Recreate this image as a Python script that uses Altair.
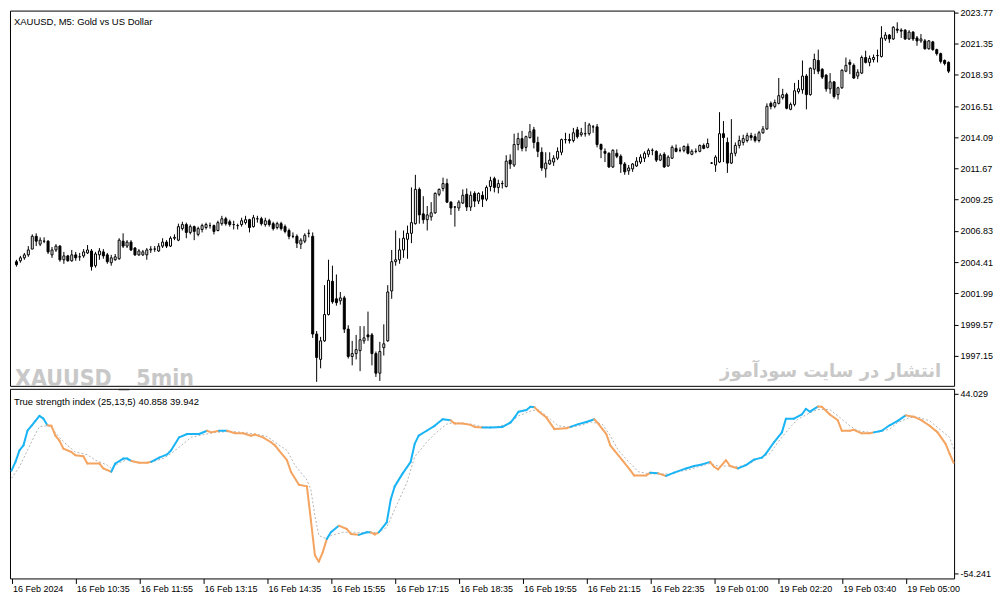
import altair as alt
import pandas as pd

# XAUUSD M5 candles, one value per 5-minute bar from left to right
opens = [
    2004.44, 2004.51, 2004.74, 2004.97, 2005.42, 2006.41, 2005.80, 2006.03, 2006.03, 2004.97,
    2005.35, 2005.65, 2004.59, 2004.89, 2004.51, 2004.97, 2004.82, 2004.89, 2005.12, 2005.27,
    2004.13, 2004.97, 2005.20, 2004.97, 2004.36, 2004.59, 2004.67, 2006.03, 2005.65, 2005.96,
    2005.50, 2004.97, 2004.97, 2004.97, 2005.35, 2005.42, 2005.27, 2005.65, 2005.96, 2005.65,
    2006.26, 2006.11, 2007.01, 2007.32, 2006.71, 2007.16, 2006.56, 2006.94, 2007.09, 2007.24,
    2007.24, 2006.86, 2007.39, 2007.77, 2007.54, 2007.32, 2007.24, 2007.32, 2007.47, 2007.70,
    2007.16, 2007.77, 2007.77, 2007.32, 2007.62, 2007.39, 2007.09, 2007.39, 2007.16, 2006.86,
    2006.41, 2006.41, 2005.80, 2006.03, 2006.64, 2006.41, 1998.83, 1996.86, 1998.30, 2000.34,
    2002.92, 2001.56, 2001.41, 2001.63, 1999.21, 1997.09, 1997.31, 1997.54, 1998.30, 1998.76,
    1998.76, 1997.31, 1995.79, 1997.77, 1998.30, 2002.17, 2004.44, 2004.59, 2005.35, 2006.18,
    2006.64, 2007.39, 2010.05, 2008.15, 2007.70, 2007.92, 2008.23, 2009.67, 2010.12, 2010.50,
    2009.06, 2008.68, 2008.61, 2008.99, 2009.67, 2008.68, 2009.74, 2009.14, 2009.59, 2009.29,
    2010.27, 2010.88, 2010.20, 2010.50, 2010.27, 2012.32, 2011.94, 2013.53, 2013.99, 2013.31,
    2014.07, 2014.67, 2013.69, 2012.93, 2011.64, 2012.02, 2012.17, 2012.47, 2012.93, 2013.91,
    2013.91, 2013.84, 2014.67, 2014.29, 2014.37, 2014.37, 2014.90, 2014.90, 2013.53, 2013.00,
    2012.85, 2011.79, 2012.85, 2012.62, 2012.02, 2011.49, 2011.64, 2011.87, 2012.17, 2012.47,
    2012.77, 2013.08, 2013.00, 2012.32, 2012.77, 2011.87, 2012.47, 2013.23, 2013.08, 2013.08,
    2013.38, 2012.77, 2013.00, 2013.00, 2013.46, 2013.31, 2012.09, 2011.94, 2012.17, 2014.37,
    2013.69, 2012.09, 2012.85, 2013.46, 2013.69, 2013.84, 2014.22, 2014.14, 2013.84, 2014.44,
    2014.74, 2016.72, 2016.49, 2016.72, 2017.17, 2017.40, 2016.26, 2016.64, 2017.63, 2017.78,
    2018.84, 2017.40, 2019.37, 2020.05, 2019.37, 2018.91, 2017.85, 2018.39, 2017.40, 2017.93,
    2019.22, 2019.90, 2019.67, 2018.84, 2019.07, 2020.28, 2019.90, 2020.13, 2020.43, 2020.36,
    2021.72, 2022.02, 2021.72, 2022.48, 2022.40, 2022.40, 2021.72, 2022.25, 2021.80, 2021.57,
    2021.57, 2020.96, 2021.49, 2020.89, 2020.58, 2020.05, 2019.90,
]
highs = [
    2004.59, 2004.89, 2005.12, 2005.65, 2006.56, 2006.64, 2006.33, 2006.33, 2006.11, 2005.58,
    2005.80, 2005.73, 2005.20, 2004.97, 2005.35, 2005.20, 2005.12, 2005.42, 2005.73, 2005.42,
    2005.20, 2005.50, 2005.42, 2005.12, 2004.97, 2005.04, 2006.26, 2006.64, 2006.11, 2006.11,
    2005.58, 2005.42, 2005.35, 2005.50, 2005.65, 2005.65, 2005.88, 2006.26, 2006.11, 2006.41,
    2006.56, 2007.39, 2007.54, 2007.47, 2007.32, 2007.24, 2007.16, 2007.39, 2007.47, 2007.47,
    2007.32, 2007.62, 2008.00, 2007.92, 2007.70, 2007.62, 2007.39, 2007.85, 2008.00, 2007.77,
    2008.07, 2008.00, 2007.92, 2007.85, 2007.77, 2007.54, 2007.54, 2007.54, 2007.32, 2007.01,
    2006.71, 2006.56, 2006.26, 2006.64, 2006.94, 2006.71, 1999.06, 1998.61, 2002.62, 2004.59,
    2004.13, 2003.45, 2002.09, 2001.79, 1999.51, 1998.30, 1998.76, 1999.44, 1999.44, 2000.57,
    1998.91, 1997.47, 1998.22, 1999.58, 2002.62, 2005.35, 2006.86, 2006.26, 2006.86, 2007.24,
    2010.20, 2011.18, 2010.20, 2009.52, 2008.76, 2009.06, 2009.82, 2010.12, 2010.96, 2010.88,
    2009.14, 2008.76, 2009.21, 2010.05, 2010.12, 2009.90, 2009.90, 2009.82, 2009.90, 2010.35,
    2011.03, 2011.03, 2010.80, 2010.73, 2012.70, 2012.77, 2014.37, 2014.44, 2014.59, 2014.22,
    2015.12, 2014.90, 2014.14, 2013.31, 2012.93, 2012.93, 2012.70, 2013.31, 2013.99, 2014.44,
    2014.37, 2014.82, 2014.90, 2014.82, 2015.28, 2015.20, 2015.05, 2015.12, 2013.61, 2013.23,
    2012.93, 2013.16, 2013.16, 2012.77, 2012.17, 2011.94, 2012.09, 2012.55, 2012.77, 2013.00,
    2013.23, 2013.23, 2013.08, 2012.85, 2012.93, 2012.70, 2013.46, 2013.53, 2013.31, 2013.46,
    2013.61, 2013.16, 2013.23, 2013.53, 2013.61, 2013.99, 2012.17, 2012.70, 2016.04, 2015.35,
    2014.07, 2015.50, 2013.69, 2014.22, 2014.29, 2014.44, 2014.44, 2014.37, 2014.59, 2014.97,
    2016.72, 2016.87, 2017.02, 2018.69, 2017.85, 2017.55, 2016.79, 2018.31, 2018.54, 2020.05,
    2018.99, 2019.52, 2020.58, 2020.89, 2019.45, 2018.99, 2019.07, 2018.46, 2018.01, 2019.37,
    2020.28, 2020.13, 2019.82, 2019.37, 2020.43, 2020.81, 2020.43, 2020.51, 2020.89, 2022.71,
    2022.25, 2022.10, 2022.71, 2023.01, 2022.55, 2022.48, 2022.40, 2022.33, 2021.95, 2022.10,
    2021.72, 2021.64, 2021.57, 2020.96, 2020.66, 2020.13, 2019.98,
]
lows = [
    2004.06, 2004.36, 2004.59, 2004.82, 2005.42, 2005.65, 2005.65, 2005.88, 2005.04, 2004.74,
    2005.20, 2004.44, 2004.28, 2004.44, 2004.44, 2004.51, 2004.51, 2004.74, 2005.04, 2003.75,
    2003.98, 2004.59, 2004.67, 2004.28, 2004.13, 2004.51, 2004.59, 2005.50, 2005.50, 2005.27,
    2004.89, 2004.89, 2004.89, 2004.59, 2005.12, 2005.20, 2005.20, 2005.50, 2005.50, 2005.58,
    2006.11, 2006.03, 2006.86, 2006.26, 2006.56, 2006.11, 2006.41, 2006.71, 2006.94, 2007.01,
    2006.56, 2006.79, 2007.24, 2007.24, 2007.16, 2006.94, 2006.94, 2007.16, 2007.32, 2006.71,
    2007.09, 2007.47, 2007.24, 2007.16, 2007.16, 2006.86, 2006.94, 2006.86, 2006.64, 2006.18,
    2006.26, 2005.50, 2005.42, 2005.88, 2006.33, 1998.53, 1995.12, 1996.17, 1998.22, 2000.27,
    2001.18, 2001.03, 2001.11, 1998.91, 1996.93, 1996.40, 1996.86, 1995.95, 1998.07, 1998.30,
    1996.40, 1995.50, 1995.19, 1997.16, 1998.22, 2001.56, 2004.13, 2004.28, 2004.74, 2004.67,
    2005.88, 2007.32, 2007.39, 2007.39, 2006.86, 2007.62, 2008.15, 2009.52, 2009.90, 2008.99,
    2008.07, 2007.16, 2008.38, 2008.91, 2008.38, 2008.38, 2008.68, 2008.91, 2008.68, 2009.14,
    2009.90, 2009.82, 2009.74, 2010.12, 2010.20, 2011.64, 2011.79, 2013.08, 2013.00, 2013.00,
    2013.99, 2013.23, 2012.55, 2011.49, 2010.96, 2011.94, 2011.87, 2012.32, 2012.70, 2013.61,
    2013.61, 2013.69, 2013.99, 2014.14, 2014.14, 2014.22, 2014.44, 2013.31, 2012.47, 2012.17,
    2011.71, 2011.71, 2012.47, 2011.33, 2011.18, 2011.18, 2011.41, 2011.79, 2012.02, 2012.17,
    2012.55, 2012.70, 2012.17, 2012.24, 2011.71, 2011.79, 2012.40, 2012.93, 2012.93, 2012.93,
    2012.77, 2012.70, 2012.85, 2012.93, 2013.16, 2013.23, 2012.02, 2011.41, 2012.09, 2012.17,
    2011.33, 2012.02, 2012.62, 2013.23, 2013.46, 2013.69, 2013.84, 2013.69, 2013.69, 2014.37,
    2014.67, 2016.26, 2016.34, 2016.64, 2017.02, 2016.26, 2016.19, 2016.49, 2017.47, 2017.47,
    2016.26, 2017.32, 2018.99, 2018.99, 2018.61, 2017.63, 2017.47, 2017.10, 2017.02, 2017.85,
    2019.14, 2018.99, 2018.61, 2018.61, 2018.99, 2019.82, 2019.60, 2019.90, 2019.90, 2020.28,
    2021.57, 2021.42, 2021.64, 2022.17, 2021.80, 2021.64, 2021.64, 2021.57, 2021.19, 2021.42,
    2020.89, 2020.89, 2020.81, 2020.43, 2019.82, 2019.67, 2019.07,
]
closes = [
    2004.21, 2004.74, 2004.97, 2005.35, 2006.41, 2006.03, 2006.11, 2006.03, 2005.20, 2005.35,
    2005.65, 2004.59, 2004.89, 2004.51, 2004.97, 2004.74, 2004.82, 2005.20, 2005.35, 2004.06,
    2005.04, 2005.27, 2004.89, 2004.44, 2004.74, 2004.82, 2006.11, 2005.65, 2005.96, 2005.35,
    2004.97, 2005.27, 2005.20, 2005.35, 2005.42, 2005.42, 2005.65, 2005.96, 2005.65, 2006.26,
    2006.33, 2007.16, 2007.32, 2006.71, 2007.16, 2006.79, 2007.01, 2007.24, 2007.32, 2007.24,
    2006.79, 2007.47, 2007.77, 2007.39, 2007.32, 2007.32, 2007.24, 2007.62, 2007.70, 2007.09,
    2007.85, 2007.77, 2007.39, 2007.62, 2007.32, 2007.01, 2007.39, 2007.01, 2006.79, 2006.41,
    2006.41, 2005.88, 2006.11, 2006.49, 2006.64, 1998.83, 1997.01, 1998.30, 2000.34, 2003.00,
    2001.33, 2001.26, 2001.63, 1999.21, 1997.09, 1997.31, 1997.62, 1998.38, 1998.53, 1998.61,
    1997.31, 1995.79, 1997.47, 1998.07, 2002.09, 2004.44, 2004.59, 2005.35, 2006.26, 2006.64,
    2007.47, 2010.05, 2008.07, 2007.70, 2008.07, 2008.23, 2009.74, 2010.05, 2010.50, 2009.06,
    2008.61, 2008.68, 2009.06, 2009.59, 2008.68, 2009.59, 2009.14, 2009.74, 2009.29, 2010.20,
    2010.73, 2010.20, 2010.50, 2010.50, 2012.24, 2012.02, 2013.53, 2013.99, 2013.23, 2014.14,
    2014.52, 2013.69, 2013.00, 2011.71, 2012.09, 2012.32, 2012.47, 2013.00, 2013.91, 2013.91,
    2013.84, 2014.44, 2014.14, 2014.44, 2014.37, 2015.05, 2014.90, 2013.53, 2013.16, 2012.85,
    2011.79, 2013.08, 2012.62, 2012.02, 2011.41, 2011.71, 2012.02, 2012.24, 2012.55, 2012.85,
    2013.08, 2013.08, 2012.32, 2012.70, 2011.79, 2012.55, 2013.31, 2013.00, 2013.08, 2013.38,
    2012.85, 2013.00, 2013.00, 2013.46, 2013.23, 2013.61, 2012.09, 2012.55, 2014.37, 2014.07,
    2012.09, 2012.85, 2013.46, 2013.84, 2013.99, 2014.22, 2014.07, 2013.84, 2014.44, 2014.74,
    2016.49, 2016.49, 2016.79, 2017.32, 2017.40, 2016.34, 2016.64, 2017.70, 2017.85, 2018.84,
    2017.40, 2019.45, 2020.13, 2019.22, 2018.76, 2017.85, 2018.39, 2017.25, 2017.93, 2019.29,
    2019.67, 2019.75, 2018.69, 2019.14, 2020.28, 2019.90, 2020.20, 2020.28, 2020.43, 2021.80,
    2022.02, 2021.72, 2022.63, 2022.40, 2022.33, 2021.72, 2022.25, 2021.72, 2021.57, 2021.72,
    2020.96, 2021.57, 2020.89, 2020.58, 2019.98, 2019.82, 2019.22,
]

# True strength index (25,13,5): sampled bars, values, colour state (1 = blue, 0 = orange)
tsi_bar = [
    0, 1, 2, 3, 4, 5, 6, 7, 8, 9, 10, 11, 12, 13, 15, 16, 18, 19, 22, 23,
    24, 25, 26, 28, 29, 30, 32, 34, 35, 37, 39, 40, 42, 44, 47, 49, 50, 52, 54, 56,
    58, 60, 61, 63, 65, 66, 67, 69, 70, 72, 74, 75, 76, 77, 78, 79, 80, 82, 84, 85,
    87, 89, 90, 91, 92, 94, 95, 96, 98, 100, 101, 102, 104, 106, 108, 110, 111, 113, 115, 116,
    118, 120, 123, 125, 126, 127, 129, 130, 131, 132, 134, 136, 139, 140, 142, 144, 146, 147, 149, 150,
    151, 153, 155, 156, 159, 160, 162, 164, 166, 169, 171, 173, 175, 176, 177, 179, 180, 182, 184, 186,
    188, 189, 191, 193, 194, 196, 198, 199, 200, 202, 203, 205, 207, 208, 210, 211, 213, 215, 216, 218,
    220, 222, 224, 226, 228, 230, 232, 234, 235, 236,
]
tsi_val = [
    2.0, 6.8, 13.1, 15.8, 23.8, 26.5, 29.2, 31.9, 30.4, 26.8, 26.5, 21.1, 18.4, 14.0, 12.2, 10.4, 9.8, 5.9, 5.9, 3.2,
    2.3, 1.4, 5.9, 8.6, 8.6, 7.3, 6.3, 6.3, 6.8, 9.1, 10.9, 13.1, 20.2, 22.0, 22.0, 23.8, 22.9, 23.8, 23.8, 22.4,
    22.4, 21.1, 21.7, 20.2, 17.5, 15.8, 13.1, 7.7, 1.4, -5.7, -6.6, -25.0, -44.2, -47.8, -42.4, -35.3, -31.7, -28.1, -29.9, -32.6,
    -33.1, -31.7, -31.7, -32.9, -31.7, -26.3, -13.8, -6.6, 0.5, 6.8, 16.6, 21.1, 23.8, 26.5, 30.1, 29.5, 27.7, 27.7, 27.0, 25.9,
    25.6, 25.6, 25.9, 28.3, 31.0, 34.2, 35.1, 36.9, 36.7, 34.5, 31.0, 24.7, 25.2, 25.9, 27.4, 28.6, 30.1, 27.7, 22.0, 15.8,
    13.1, 7.7, 2.3, -0.7, -0.7, 0.9, 0.5, -0.9, 0.9, 3.2, 4.5, 5.4, 6.8, 4.1, 2.7, 7.7, 4.5, 3.2, 5.0, 8.0,
    9.1, 11.3, 17.5, 22.9, 30.4, 30.4, 32.7, 35.8, 34.2, 37.0, 36.9, 32.7, 29.5, 23.8, 23.8, 24.3, 22.4, 22.4, 22.9, 23.8,
    26.8, 29.2, 32.2, 31.5, 29.5, 26.5, 22.9, 16.6, 11.3, 6.3,
]
tsi_up = [
    1, 1, 1, 1, 1, 1, 1, 1, 1, 0, 0, 0, 0, 0, 0, 0, 0, 0, 0, 0,
    0, 1, 1, 1, 1, 0, 0, 0, 1, 1, 1, 1, 1, 1, 1, 0, 0, 1, 0, 0,
    0, 0, 0, 0, 0, 0, 0, 0, 0, 0, 0, 0, 0, 0, 0, 1, 1, 0, 0, 0,
    1, 1, 0, 0, 1, 1, 1, 1, 1, 1, 1, 1, 1, 1, 1, 0, 0, 0, 0, 0,
    1, 1, 1, 1, 1, 1, 1, 1, 0, 0, 0, 0, 0, 1, 1, 1, 0, 0, 0, 0,
    0, 0, 0, 0, 0, 1, 0, 1, 1, 1, 1, 1, 0, 0, 0, 0, 0, 1, 1, 1,
    1, 1, 1, 1, 1, 1, 1, 1, 1, 0, 0, 0, 0, 0, 0, 0, 0, 0, 1, 1,
    1, 1, 0, 0, 0, 0, 0, 0, 0, 0,
]
sig_bar = [
    0, 2, 4, 6, 7, 9, 10, 12, 14, 16, 19, 21, 24, 25, 27, 29, 32, 35, 38, 40,
    43, 45, 48, 51, 55, 58, 61, 64, 66, 69, 71, 74, 75, 76, 77, 79, 80, 83, 86, 90,
    92, 94, 96, 99, 101, 104, 106, 109, 111, 115, 118, 121, 124, 127, 130, 132, 135, 137, 140, 143,
    145, 148, 150, 152, 155, 157, 160, 162, 165, 167, 170, 172, 175, 177, 180, 182, 185, 187, 190, 192,
    195, 197, 200, 202, 205, 207, 210, 212, 215, 217, 220, 222, 225, 227, 230, 232, 235, 236,
]
sig_val = [
    -2.2, 4.1, 13.1, 22.0, 26.0, 26.5, 25.6, 20.2, 15.8, 12.2, 10.7, 7.7, 5.0, 3.2, 6.3, 8.0, 6.4, 6.6, 8.6, 11.3,
    16.6, 20.2, 21.6, 22.9, 23.4, 22.9, 22.0, 20.7, 17.5, 13.1, 5.0, -3.1, -8.4, -22.7, -33.5, -35.3, -33.5, -31.7, -31.7, -32.0,
    -31.7, -29.0, -19.2, -4.8, 9.5, 17.5, 22.0, 27.4, 28.3, 27.4, 26.0, 25.6, 27.4, 31.9, 34.5, 35.4, 30.1, 26.5, 25.6, 27.0,
    28.6, 27.4, 21.1, 13.1, 5.9, 1.4, 0.2, 0.2, 0.2, 1.4, 2.7, 4.1, 5.9, 4.5, 4.5, 4.1, 5.9, 8.6, 11.3, 17.5,
    25.6, 30.1, 33.6, 35.4, 35.4, 31.9, 26.5, 23.8, 22.9, 22.9, 24.7, 28.3, 31.0, 31.3, 29.2, 25.6, 20.2, 13.9,
]

price_ticks = [2023.77, 2021.35, 2018.93, 2016.51, 2014.09, 2011.67,
               2009.25, 2006.83, 2004.41, 2001.99, 1999.57, 1997.15]
tsi_ticks = [44.029, -54.241]
time_ticks = list(range(0, 225, 16))
time_labels = ["16 Feb 2024", "16 Feb 10:35", "16 Feb 11:55", "16 Feb 13:15", "16 Feb 14:35",
               "16 Feb 15:55", "16 Feb 17:15", "16 Feb 18:35", "16 Feb 19:55", "16 Feb 21:15",
               "16 Feb 22:35", "19 Feb 01:00", "19 Feb 02:20", "19 Feb 03:40", "19 Feb 05:00"]

W = 946
H_MAIN = 376
H_TSI = 190
FONT = "Liberation Sans"

candles = pd.DataFrame({"i": range(len(closes)), "open": opens, "high": highs,
                        "low": lows, "close": closes})
candles["side"] = ["down" if c < o else "up" for o, c in zip(opens, closes)]

x_scale = alt.Scale(domain=[-0.375, 236.125], nice=False, zero=False)
price_scale = alt.Scale(domain=[1994.81, 2023.92], nice=False, zero=False)
tsi_scale = alt.Scale(domain=[-56.93, 46.71], nice=False, zero=False)


def right_axis(values):
    return alt.Axis(orient="right", values=values, labelExpr="'' + datum.value", title=None,
                    grid=False, domain=False, tickSize=4, tickColor="black",
                    labelColor="black", labelFont=FONT, labelFontSize=9, labelPadding=2,
                    labelFlush=False, labelOverlap=False)


def note(text, x, y, **style):
    return (
        alt.Chart(pd.DataFrame({"t": [text]}))
        .mark_text(**style)
        .encode(text="t:N", x=alt.value(x), y=alt.value(y))
    )


# price pane
cx = alt.X("i:Q", scale=x_scale, axis=None)
wicks = alt.Chart(candles).mark_rule(color="black", strokeWidth=1).encode(
    x=cx,
    y=alt.Y("low:Q", scale=price_scale, axis=right_axis(price_ticks)),
    y2="high:Q",
)
bodies = alt.Chart(candles).mark_bar(size=2, stroke="black", strokeWidth=1).encode(
    x=cx,
    y=alt.Y("open:Q", scale=price_scale, axis=right_axis(price_ticks)),
    y2="close:Q",
    fill=alt.Fill("side:N", scale=alt.Scale(domain=["up", "down"], range=["white", "black"]),
                  legend=None),
)
main = alt.layer(
    wicks,
    bodies,
    note("XAUUSD, M5:  Gold vs US Dollar", 4, 11, align="left", font=FONT,
         fontSize=9.5, color="black"),
    note("XAUUSD _ 5min", 5, H_MAIN - 7, align="left", font="DejaVu Sans Condensed",
         fontSize=23, fontWeight="bold", color="#c8c8c8"),
    note("انتشار در سایت سودآموز", W - 13, H_MAIN - 14, align="right",
         font="DejaVu Sans", fontSize=18, fontWeight="bold", color="#c8c8c8"),
).properties(width=W, height=H_MAIN)

# indicator pane
time_axis = alt.Axis(values=time_ticks,
                     labelExpr="[" + ",".join(f"'{t}'" for t in time_labels) + "][round(datum.value / 16)]",
                     title=None, grid=False, domain=False, tickSize=5, tickColor="black",
                     labelColor="black", labelFont=FONT, labelFontSize=9, labelAlign="left",
                     labelBaseline="top", labelPadding=1, labelOffset=1, labelFlush=False,
                     labelOverlap=False, labelBound=False)
tx = alt.X("i:Q", scale=x_scale, axis=time_axis)
ty = alt.Y("v:Q", scale=tsi_scale, axis=right_axis(tsi_ticks))

tsi = pd.DataFrame({"i": tsi_bar, "v": tsi_val,
                    "state": ["up" if u else "down" for u in tsi_up]})
sig = pd.DataFrame({"i": sig_bar, "v": sig_val})

signal = alt.Chart(sig).mark_line(color="#b4b4b4", strokeWidth=1, strokeDash=[2, 2]).encode(
    x=tx, y=ty
)
segments = (
    alt.Chart(tsi)
    .transform_window(
        window=[alt.WindowFieldDef(op="lead", field="i", **{"as": "i2"}),
                alt.WindowFieldDef(op="lead", field="v", **{"as": "v2"})],
        sort=[alt.SortField("i")],
    )
    .transform_filter("isValid(datum.i2)")
    .mark_rule(strokeWidth=2, strokeCap="round")
    .encode(
        x=tx,
        x2="i2:Q",
        y=ty,
        y2="v2:Q",
        color=alt.Color("state:N", legend=None,
                        scale=alt.Scale(domain=["up", "down"], range=["#1ab4f4", "#f4a460"])),
    )
)
ind = alt.layer(
    signal,
    segments,
    note("True strength index (25,13,5) 40.858 39.942", 4, 13, align="left", font=FONT,
         fontSize=9.5, color="black"),
).properties(width=W, height=H_TSI)

chart = (
    alt.vconcat(main, ind, spacing=3, bounds="flush")
    .properties(background="white", padding={"left": 1, "top": -1, "right": 1, "bottom": 1})
    .configure(font=FONT)
    .configure_view(stroke="black", strokeWidth=1)
)

chart.save("out.html", embed_options={"renderer": "svg", "actions": False})
